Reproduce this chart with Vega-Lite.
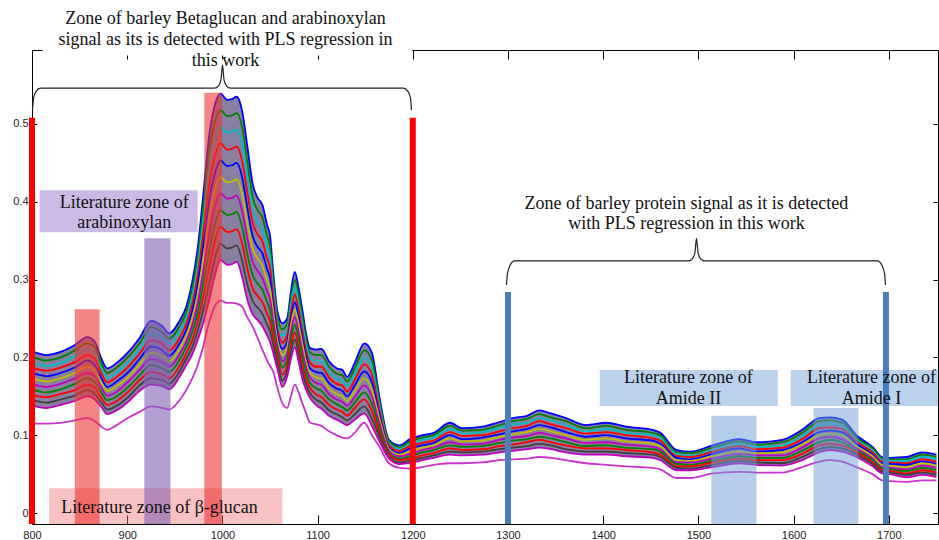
{
"$schema": "https://vega.github.io/schema/vega-lite/v6.json",
"width": 906, "height": 474,
"autosize": {"type": "none"},
"padding": {"left": 32, "top": 50, "right": 1, "bottom": 16},
"background": "white",
"config": {"view": {"stroke": null}},
"datasets": {
"spec": [
{"x":800,"t":0.208,"c1":0.145,"c2":0.152,"c3":0.159,"c4":0.166,"c5":0.173,"c6":0.180,"c7":0.187,"c8":0.194,"c9":0.201,"b":0.138,"l":0.115},
{"x":815,"t":0.203,"c1":0.142,"c2":0.149,"c3":0.155,"c4":0.162,"c5":0.169,"c6":0.176,"c7":0.183,"c8":0.189,"c9":0.196,"b":0.135,"l":0.115},
{"x":830,"t":0.207,"c1":0.146,"c2":0.153,"c3":0.159,"c4":0.166,"c5":0.173,"c6":0.180,"c7":0.187,"c8":0.193,"c9":0.200,"b":0.139,"l":0.116},
{"x":845,"t":0.216,"c1":0.151,"c2":0.158,"c3":0.166,"c4":0.173,"c5":0.180,"c6":0.187,"c7":0.194,"c8":0.202,"c9":0.209,"b":0.144,"l":0.119},
{"x":858,"t":0.226,"c1":0.158,"c2":0.165,"c3":0.173,"c4":0.180,"c5":0.188,"c6":0.196,"c7":0.203,"c8":0.211,"c9":0.218,"b":0.150,"l":0.122},
{"x":866,"t":0.220,"c1":0.153,"c2":0.161,"c3":0.168,"c4":0.176,"c5":0.183,"c6":0.190,"c7":0.198,"c8":0.205,"c9":0.213,"b":0.146,"l":0.118},
{"x":873,"t":0.198,"c1":0.142,"c2":0.148,"c3":0.155,"c4":0.161,"c5":0.167,"c6":0.173,"c7":0.179,"c8":0.186,"c9":0.192,"b":0.136,"l":0.111},
{"x":879,"t":0.186,"c1":0.133,"c2":0.139,"c3":0.145,"c4":0.151,"c5":0.157,"c6":0.162,"c7":0.168,"c8":0.174,"c9":0.180,"b":0.127,"l":0.107},
{"x":889,"t":0.193,"c1":0.138,"c2":0.144,"c3":0.150,"c4":0.156,"c5":0.163,"c6":0.169,"c7":0.175,"c8":0.181,"c9":0.187,"b":0.132,"l":0.113},
{"x":902,"t":0.208,"c1":0.150,"c2":0.157,"c3":0.163,"c4":0.170,"c5":0.176,"c6":0.182,"c7":0.189,"c8":0.195,"c9":0.202,"b":0.144,"l":0.123},
{"x":913,"t":0.225,"c1":0.164,"c2":0.171,"c3":0.177,"c4":0.184,"c5":0.191,"c6":0.198,"c7":0.205,"c8":0.211,"c9":0.218,"b":0.157,"l":0.130},
{"x":925,"t":0.247,"c1":0.173,"c2":0.181,"c3":0.190,"c4":0.198,"c5":0.206,"c6":0.214,"c7":0.222,"c8":0.231,"c9":0.239,"b":0.165,"l":0.137},
{"x":937,"t":0.240,"c1":0.171,"c2":0.178,"c3":0.186,"c4":0.194,"c5":0.202,"c6":0.209,"c7":0.217,"c8":0.225,"c9":0.232,"b":0.163,"l":0.135},
{"x":944,"t":0.231,"c1":0.166,"c2":0.173,"c3":0.181,"c4":0.188,"c5":0.195,"c6":0.202,"c7":0.209,"c8":0.217,"c9":0.224,"b":0.159,"l":0.133},
{"x":955,"t":0.247,"c1":0.182,"c2":0.189,"c3":0.197,"c4":0.204,"c5":0.211,"c6":0.218,"c7":0.225,"c8":0.233,"c9":0.240,"b":0.175,"l":0.145},
{"x":962,"t":0.265,"c1":0.198,"c2":0.205,"c3":0.213,"c4":0.220,"c5":0.228,"c6":0.235,"c7":0.243,"c8":0.250,"c9":0.258,"b":0.190,"l":0.158},
{"x":968,"t":0.295,"c1":0.212,"c2":0.221,"c3":0.231,"c4":0.240,"c5":0.249,"c6":0.258,"c7":0.267,"c8":0.277,"c9":0.286,"b":0.203,"l":0.172},
{"x":974,"t":0.340,"c1":0.234,"c2":0.246,"c3":0.257,"c4":0.269,"c5":0.281,"c6":0.293,"c7":0.305,"c8":0.316,"c9":0.328,"b":0.222,"l":0.190},
{"x":980,"t":0.410,"c1":0.262,"c2":0.278,"c3":0.295,"c4":0.311,"c5":0.328,"c6":0.344,"c7":0.361,"c8":0.377,"c9":0.394,"b":0.245,"l":0.215},
{"x":986,"t":0.484,"c1":0.294,"c2":0.315,"c3":0.336,"c4":0.357,"c5":0.379,"c6":0.400,"c7":0.421,"c8":0.442,"c9":0.463,"b":0.273,"l":0.245},
{"x":992,"t":0.524,"c1":0.327,"c2":0.349,"c3":0.371,"c4":0.393,"c5":0.415,"c6":0.436,"c7":0.458,"c8":0.480,"c9":0.502,"b":0.305,"l":0.266},
{"x":998,"t":0.539,"c1":0.346,"c2":0.368,"c3":0.389,"c4":0.411,"c5":0.432,"c6":0.453,"c7":0.475,"c8":0.496,"c9":0.518,"b":0.325,"l":0.273},
{"x":1005,"t":0.531,"c1":0.340,"c2":0.361,"c3":0.383,"c4":0.404,"c5":0.425,"c6":0.446,"c7":0.467,"c8":0.489,"c9":0.510,"b":0.319,"l":0.270},
{"x":1010,"t":0.532,"c1":0.341,"c2":0.362,"c3":0.384,"c4":0.405,"c5":0.426,"c6":0.447,"c7":0.468,"c8":0.490,"c9":0.511,"b":0.320,"l":0.270},
{"x":1015,"t":0.535,"c1":0.344,"c2":0.365,"c3":0.387,"c4":0.408,"c5":0.429,"c6":0.450,"c7":0.471,"c8":0.493,"c9":0.514,"b":0.323,"l":0.269},
{"x":1021,"t":0.515,"c1":0.323,"c2":0.345,"c3":0.366,"c4":0.387,"c5":0.409,"c6":0.430,"c7":0.451,"c8":0.472,"c9":0.494,"b":0.302,"l":0.265},
{"x":1026,"t":0.473,"c1":0.295,"c2":0.315,"c3":0.334,"c4":0.354,"c5":0.374,"c6":0.394,"c7":0.414,"c8":0.433,"c9":0.453,"b":0.275,"l":0.252},
{"x":1032,"t":0.422,"c1":0.272,"c2":0.288,"c3":0.305,"c4":0.322,"c5":0.339,"c6":0.355,"c7":0.372,"c8":0.389,"c9":0.405,"b":0.255,"l":0.239},
{"x":1037,"t":0.405,"c1":0.264,"c2":0.279,"c3":0.295,"c4":0.311,"c5":0.327,"c6":0.342,"c7":0.358,"c8":0.374,"c9":0.389,"b":0.248,"l":0.225},
{"x":1042,"t":0.396,"c1":0.256,"c2":0.271,"c3":0.287,"c4":0.302,"c5":0.318,"c6":0.334,"c7":0.349,"c8":0.365,"c9":0.380,"b":0.240,"l":0.210},
{"x":1047,"t":0.370,"c1":0.242,"c2":0.256,"c3":0.271,"c4":0.285,"c5":0.299,"c6":0.313,"c7":0.327,"c8":0.342,"c9":0.356,"b":0.228,"l":0.196},
{"x":1050,"t":0.357,"c1":0.234,"c2":0.247,"c3":0.261,"c4":0.275,"c5":0.289,"c6":0.302,"c7":0.316,"c8":0.330,"c9":0.343,"b":0.220,"l":0.189},
{"x":1053,"t":0.315,"c1":0.219,"c2":0.229,"c3":0.240,"c4":0.251,"c5":0.262,"c6":0.272,"c7":0.283,"c8":0.294,"c9":0.304,"b":0.208,"l":0.183},
{"x":1058,"t":0.258,"c1":0.191,"c2":0.199,"c3":0.206,"c4":0.214,"c5":0.221,"c6":0.228,"c7":0.236,"c8":0.243,"c9":0.251,"b":0.184,"l":0.160},
{"x":1063,"t":0.244,"c1":0.170,"c2":0.178,"c3":0.187,"c4":0.195,"c5":0.203,"c6":0.211,"c7":0.219,"c8":0.228,"c9":0.236,"b":0.162,"l":0.141},
{"x":1068,"t":0.250,"c1":0.183,"c2":0.190,"c3":0.198,"c4":0.205,"c5":0.213,"c6":0.220,"c7":0.228,"c8":0.235,"c9":0.243,"b":0.175,"l":0.135},
{"x":1072,"t":0.285,"c1":0.207,"c2":0.215,"c3":0.224,"c4":0.233,"c5":0.242,"c6":0.250,"c7":0.259,"c8":0.268,"c9":0.276,"b":0.198,"l":0.150},
{"x":1076,"t":0.310,"c1":0.223,"c2":0.232,"c3":0.242,"c4":0.252,"c5":0.262,"c6":0.271,"c7":0.281,"c8":0.291,"c9":0.300,"b":0.213,"l":0.165},
{"x":1080,"t":0.290,"c1":0.205,"c2":0.214,"c3":0.224,"c4":0.233,"c5":0.243,"c6":0.252,"c7":0.262,"c8":0.271,"c9":0.281,"b":0.195,"l":0.155},
{"x":1084,"t":0.261,"c1":0.181,"c2":0.190,"c3":0.199,"c4":0.208,"c5":0.217,"c6":0.225,"c7":0.234,"c8":0.243,"c9":0.252,"b":0.172,"l":0.141},
{"x":1088,"t":0.230,"c1":0.165,"c2":0.172,"c3":0.180,"c4":0.187,"c5":0.194,"c6":0.201,"c7":0.208,"c8":0.216,"c9":0.223,"b":0.158,"l":0.128},
{"x":1092,"t":0.212,"c1":0.154,"c2":0.161,"c3":0.167,"c4":0.174,"c5":0.180,"c6":0.186,"c7":0.193,"c8":0.199,"c9":0.206,"b":0.148,"l":0.116},
{"x":1099,"t":0.210,"c1":0.145,"c2":0.152,"c3":0.160,"c4":0.167,"c5":0.174,"c6":0.181,"c7":0.188,"c8":0.196,"c9":0.203,"b":0.138,"l":0.114},
{"x":1104,"t":0.211,"c1":0.142,"c2":0.149,"c3":0.157,"c4":0.165,"c5":0.173,"c6":0.180,"c7":0.188,"c8":0.196,"c9":0.203,"b":0.134,"l":0.112},
{"x":1112,"t":0.195,"c1":0.132,"c2":0.139,"c3":0.146,"c4":0.153,"c5":0.160,"c6":0.167,"c7":0.174,"c8":0.181,"c9":0.188,"b":0.125,"l":0.105},
{"x":1120,"t":0.186,"c1":0.127,"c2":0.133,"c3":0.140,"c4":0.146,"c5":0.153,"c6":0.160,"c7":0.166,"c8":0.173,"c9":0.179,"b":0.120,"l":0.100},
{"x":1126,"t":0.184,"c1":0.123,"c2":0.130,"c3":0.136,"c4":0.143,"c5":0.150,"c6":0.157,"c7":0.164,"c8":0.170,"c9":0.177,"b":0.116,"l":0.097},
{"x":1131,"t":0.175,"c1":0.119,"c2":0.125,"c3":0.132,"c4":0.138,"c5":0.144,"c6":0.150,"c7":0.156,"c8":0.163,"c9":0.169,"b":0.113,"l":0.096},
{"x":1139,"t":0.193,"c1":0.127,"c2":0.135,"c3":0.142,"c4":0.149,"c5":0.157,"c6":0.164,"c7":0.171,"c8":0.178,"c9":0.186,"b":0.120,"l":0.103},
{"x":1149,"t":0.218,"c1":0.137,"c2":0.146,"c3":0.155,"c4":0.164,"c5":0.173,"c6":0.182,"c7":0.191,"c8":0.200,"c9":0.209,"b":0.128,"l":0.116},
{"x":1157,"t":0.206,"c1":0.121,"c2":0.131,"c3":0.140,"c4":0.150,"c5":0.159,"c6":0.168,"c7":0.178,"c8":0.187,"c9":0.197,"b":0.112,"l":0.100},
{"x":1165,"t":0.149,"c1":0.098,"c2":0.103,"c3":0.109,"c4":0.115,"c5":0.121,"c6":0.126,"c7":0.132,"c8":0.138,"c9":0.143,"b":0.092,"l":0.085},
{"x":1175,"t":0.094,"c1":0.072,"c2":0.075,"c3":0.077,"c4":0.080,"c5":0.082,"c6":0.084,"c7":0.087,"c8":0.089,"c9":0.092,"b":0.070,"l":0.064},
{"x":1186,"t":0.087,"c1":0.065,"c2":0.068,"c3":0.070,"c4":0.073,"c5":0.075,"c6":0.077,"c7":0.080,"c8":0.082,"c9":0.085,"b":0.063,"l":0.058},
{"x":1197,"t":0.095,"c1":0.067,"c2":0.070,"c3":0.073,"c4":0.076,"c5":0.079,"c6":0.083,"c7":0.086,"c8":0.089,"c9":0.092,"b":0.064,"l":0.057},
{"x":1210,"t":0.100,"c1":0.071,"c2":0.074,"c3":0.078,"c4":0.081,"c5":0.084,"c6":0.087,"c7":0.090,"c8":0.094,"c9":0.097,"b":0.068,"l":0.059},
{"x":1222,"t":0.103,"c1":0.074,"c2":0.077,"c3":0.081,"c4":0.084,"c5":0.087,"c6":0.090,"c7":0.093,"c8":0.097,"c9":0.100,"b":0.071,"l":0.062},
{"x":1239,"t":0.116,"c1":0.079,"c2":0.083,"c3":0.087,"c4":0.091,"c5":0.096,"c6":0.100,"c7":0.104,"c8":0.108,"c9":0.112,"b":0.075,"l":0.064},
{"x":1252,"t":0.109,"c1":0.078,"c2":0.081,"c3":0.085,"c4":0.088,"c5":0.092,"c6":0.095,"c7":0.099,"c8":0.102,"c9":0.106,"b":0.074,"l":0.064},
{"x":1273,"t":0.111,"c1":0.079,"c2":0.082,"c3":0.086,"c4":0.089,"c5":0.093,"c6":0.097,"c7":0.100,"c8":0.104,"c9":0.107,"b":0.075,"l":0.065},
{"x":1291,"t":0.117,"c1":0.082,"c2":0.086,"c3":0.090,"c4":0.094,"c5":0.098,"c6":0.101,"c7":0.105,"c8":0.109,"c9":0.113,"b":0.078,"l":0.068},
{"x":1305,"t":0.122,"c1":0.084,"c2":0.088,"c3":0.093,"c4":0.097,"c5":0.101,"c6":0.105,"c7":0.109,"c8":0.114,"c9":0.118,"b":0.080,"l":0.069},
{"x":1320,"t":0.125,"c1":0.086,"c2":0.091,"c3":0.095,"c4":0.099,"c5":0.104,"c6":0.108,"c7":0.112,"c8":0.116,"c9":0.121,"b":0.082,"l":0.070},
{"x":1333,"t":0.132,"c1":0.089,"c2":0.094,"c3":0.098,"c4":0.103,"c5":0.108,"c6":0.113,"c7":0.118,"c8":0.122,"c9":0.127,"b":0.084,"l":0.072},
{"x":1345,"t":0.128,"c1":0.087,"c2":0.091,"c3":0.096,"c4":0.100,"c5":0.105,"c6":0.110,"c7":0.114,"c8":0.119,"c9":0.123,"b":0.082,"l":0.071},
{"x":1361,"t":0.122,"c1":0.082,"c2":0.087,"c3":0.091,"c4":0.096,"c5":0.100,"c6":0.104,"c7":0.109,"c8":0.113,"c9":0.118,"b":0.078,"l":0.068},
{"x":1382,"t":0.113,"c1":0.079,"c2":0.083,"c3":0.086,"c4":0.090,"c5":0.094,"c6":0.098,"c7":0.102,"c8":0.105,"c9":0.109,"b":0.075,"l":0.064},
{"x":1403,"t":0.116,"c1":0.079,"c2":0.083,"c3":0.087,"c4":0.091,"c5":0.096,"c6":0.100,"c7":0.104,"c8":0.108,"c9":0.112,"b":0.075,"l":0.062},
{"x":1424,"t":0.111,"c1":0.077,"c2":0.081,"c3":0.084,"c4":0.088,"c5":0.092,"c6":0.096,"c7":0.100,"c8":0.103,"c9":0.107,"b":0.073,"l":0.060},
{"x":1452,"t":0.107,"c1":0.075,"c2":0.078,"c3":0.082,"c4":0.085,"c5":0.089,"c6":0.093,"c7":0.096,"c8":0.100,"c9":0.103,"b":0.071,"l":0.058},
{"x":1460,"t":0.103,"c1":0.072,"c2":0.075,"c3":0.079,"c4":0.082,"c5":0.086,"c6":0.089,"c7":0.093,"c8":0.096,"c9":0.100,"b":0.068,"l":0.056},
{"x":1477,"t":0.081,"c1":0.058,"c2":0.060,"c3":0.063,"c4":0.065,"c5":0.068,"c6":0.071,"c7":0.073,"c8":0.076,"c9":0.078,"b":0.055,"l":0.045},
{"x":1492,"t":0.079,"c1":0.057,"c2":0.060,"c3":0.062,"c4":0.065,"c5":0.067,"c6":0.069,"c7":0.072,"c8":0.074,"c9":0.077,"b":0.055,"l":0.045},
{"x":1515,"t":0.087,"c1":0.062,"c2":0.065,"c3":0.067,"c4":0.070,"c5":0.073,"c6":0.076,"c7":0.079,"c8":0.081,"c9":0.084,"b":0.059,"l":0.051},
{"x":1543,"t":0.095,"c1":0.067,"c2":0.070,"c3":0.073,"c4":0.076,"c5":0.079,"c6":0.083,"c7":0.086,"c8":0.089,"c9":0.092,"b":0.064,"l":0.053},
{"x":1561,"t":0.091,"c1":0.065,"c2":0.068,"c3":0.071,"c4":0.074,"c5":0.077,"c6":0.079,"c7":0.082,"c8":0.085,"c9":0.088,"b":0.062,"l":0.052},
{"x":1588,"t":0.094,"c1":0.064,"c2":0.068,"c3":0.071,"c4":0.074,"c5":0.078,"c6":0.081,"c7":0.084,"c8":0.087,"c9":0.091,"b":0.061,"l":0.052},
{"x":1609,"t":0.107,"c1":0.072,"c2":0.076,"c3":0.080,"c4":0.084,"c5":0.088,"c6":0.091,"c7":0.095,"c8":0.099,"c9":0.103,"b":0.068,"l":0.059},
{"x":1627,"t":0.122,"c1":0.082,"c2":0.087,"c3":0.091,"c4":0.096,"c5":0.100,"c6":0.104,"c7":0.109,"c8":0.113,"c9":0.118,"b":0.078,"l":0.066},
{"x":1638,"t":0.123,"c1":0.085,"c2":0.089,"c3":0.094,"c4":0.098,"c5":0.102,"c6":0.106,"c7":0.110,"c8":0.115,"c9":0.119,"b":0.081,"l":0.068},
{"x":1651,"t":0.120,"c1":0.083,"c2":0.087,"c3":0.091,"c4":0.095,"c5":0.100,"c6":0.104,"c7":0.108,"c8":0.112,"c9":0.116,"b":0.079,"l":0.066},
{"x":1666,"t":0.100,"c1":0.075,"c2":0.078,"c3":0.080,"c4":0.083,"c5":0.086,"c6":0.089,"c7":0.092,"c8":0.094,"c9":0.097,"b":0.072,"l":0.059},
{"x":1683,"t":0.085,"c1":0.063,"c2":0.065,"c3":0.068,"c4":0.070,"c5":0.073,"c6":0.075,"c7":0.078,"c8":0.080,"c9":0.083,"b":0.060,"l":0.050},
{"x":1693,"t":0.072,"c1":0.053,"c2":0.055,"c3":0.057,"c4":0.059,"c5":0.062,"c6":0.064,"c7":0.066,"c8":0.068,"c9":0.070,"b":0.051,"l":0.042},
{"x":1701,"t":0.071,"c1":0.052,"c2":0.054,"c3":0.056,"c4":0.058,"c5":0.061,"c6":0.063,"c7":0.065,"c8":0.067,"c9":0.069,"b":0.050,"l":0.041},
{"x":1719,"t":0.072,"c1":0.049,"c2":0.051,"c3":0.054,"c4":0.056,"c5":0.059,"c6":0.062,"c7":0.064,"c8":0.067,"c9":0.069,"b":0.046,"l":0.040},
{"x":1735,"t":0.078,"c1":0.052,"c2":0.055,"c3":0.058,"c4":0.061,"c5":0.064,"c6":0.066,"c7":0.069,"c8":0.072,"c9":0.075,"b":0.049,"l":0.042},
{"x":1750,"t":0.075,"c1":0.049,"c2":0.052,"c3":0.055,"c4":0.058,"c5":0.061,"c6":0.063,"c7":0.066,"c8":0.069,"c9":0.072,"b":0.046,"l":0.042}
],
"rects": [
{"x":818,"x2":1063,"y":-0.0141,"y2":0.032,"k":"pink"},
{"x":845,"x2":871,"y":-0.0141,"y2":0.262,"k":"red"},
{"x":981,"x2":999.4,"y":-0.0141,"y2":0.54,"k":"red"},
{"x":918,"x2":945.5,"y":-0.0141,"y2":0.353,"k":"purple"},
{"x":808,"x2":974,"y":0.361,"y2":0.415,"k":"purplebox"},
{"x":1513.5,"x2":1561,"y":-0.0141,"y2":0.125,"k":"blue"},
{"x":1621,"x2":1668,"y":-0.0141,"y2":0.135,"k":"blue"},
{"x":1396.5,"x2":1583.5,"y":0.1375,"y2":0.1838,"k":"bluebox"},
{"x":1597,"x2":1751.7,"y":0.1375,"y2":0.1838,"k":"bluebox"}
],
"bars": [
{"x":800,"y":-0.0141,"y2":0.508,"c":"red"},
{"x":1200,"y":-0.0141,"y2":0.508,"c":"red"},
{"x":1300,"y":-0.0141,"y2":0.284,"c":"blue"},
{"x":1697,"y":-0.0141,"y2":0.284,"c":"blue"}
],
"braces": [
{"g":1,"x":800.5,"y":0.518},{"g":1,"x":801.6,"y":0.533},{"g":1,"x":804.2,"y":0.542},{"g":1,"x":808.9,"y":0.546},{"g":1,"x":991.7,"y":0.546},{"g":1,"x":995.9,"y":0.549},{"g":1,"x":998.5,"y":0.557},{"g":1,"x":1000.1,"y":0.576},{"g":1,"x":1001.7,"y":0.557},{"g":1,"x":1004.3,"y":0.549},{"g":1,"x":1008.5,"y":0.546},{"g":1,"x":1190.2,"y":0.546},{"g":1,"x":1194.9,"y":0.542},{"g":1,"x":1197.6,"y":0.533},{"g":1,"x":1198.6,"y":0.518},
{"g":2,"x":1298.4,"y":0.293},{"g":2,"x":1299.5,"y":0.308},{"g":2,"x":1302.1,"y":0.318},{"g":2,"x":1306.8,"y":0.324},{"g":2,"x":1489.6,"y":0.324},{"g":2,"x":1493.8,"y":0.327},{"g":2,"x":1496.4,"y":0.335},{"g":2,"x":1498,"y":0.353},{"g":2,"x":1499.6,"y":0.335},{"g":2,"x":1502.2,"y":0.327},{"g":2,"x":1506.4,"y":0.324},{"g":2,"x":1688.2,"y":0.324},{"g":2,"x":1692.9,"y":0.318},{"g":2,"x":1695.5,"y":0.308},{"g":2,"x":1696.6,"y":0.293}
],
"texts": [
{"x":1003.3,"y":0.6350,"t":"Zone of barley Betaglucan and arabinoxylan"},
{"x":1003.3,"y":0.6080,"t":"signal as its is detected with PLS regression in"},
{"x":1003.3,"y":0.5810,"t":"this work"},
{"x":1487.4,"y":0.397,"t":"Zone of barley protein  signal as it is detected"},
{"x":1487.4,"y":0.3715,"t":"with PLS regression in this work"},
{"x":897,"y":0.3985,"t":"Literature zone of"},
{"x":897,"y":0.373,"t":"arabinoxylan"},
{"x":934,"y":0.0064,"t":"Literature zone of β-glucan"},
{"x":1489.5,"y":0.1735,"t":"Literature zone of"},
{"x":1489.5,"y":0.1465,"t":"Amide II"},
{"x":1681.8,"y":0.1735,"t":"Literature zone of"},
{"x":1681.8,"y":0.1465,"t":"Amide I"}
],
"mask": [{"x":811,"x2":1199.5,"y":0.588,"y2":0.605}],
"anchor": [{"x":800,"y":0}]
},
"layer": [
{
"data": {"name": "anchor"},
"mark": {"type": "point", "opacity": 0},
"encoding": {
"x": {"field": "x", "type": "quantitative", "scale": {"domain": [800, 1751.7], "nice": false, "zero": false},
 "axis": {"orient": "bottom", "title": null, "values": [800,900,1000,1100,1200,1300,1400,1500,1600,1700], "format": "d", "grid": false, "tickSize": -9, "labelPadding": 14, "labelFont": "Liberation Sans", "labelFontSize": 11, "labelColor": "#222", "domainColor": "#000", "tickColor": "#000", "labelFlush": false}},
"y": {"field": "y", "type": "quantitative", "scale": {"domain": [-0.0141, 0.5951], "nice": false, "zero": false},
 "axis": {"orient": "left", "title": null, "values": [0,0.1,0.2,0.3,0.4,0.5], "format": ".1~f", "grid": false, "tickSize": -5, "labelPadding": 9, "labelFont": "Liberation Sans", "labelFontSize": 11, "labelColor": "#222", "domainColor": "#000", "tickColor": "#000"}}
}
},
{
"data": {"name": "anchor"},
"mark": {"type": "point", "opacity": 0},
"encoding": {
"x": {"field": "x", "type": "quantitative", "scale": {"domain": [800, 1751.7], "nice": false, "zero": false},
 "axis": {"orient": "top", "title": null, "labels": false, "values": [800,900,1000,1100,1200,1300,1400,1500,1600,1700], "grid": false, "tickSize": -9, "domainColor": "#000", "tickColor": "#000"}},
"y": {"field": "y", "type": "quantitative", "scale": {"domain": [-0.0141, 0.5951], "nice": false, "zero": false},
 "axis": {"orient": "right", "title": null, "labels": false, "values": [0,0.1,0.2,0.3,0.4,0.5], "grid": false, "tickSize": -5, "domainColor": "#000", "tickColor": "#000"}}
}
},
{
"layer": [
{
"data": {"name": "spec"},
"mark": {"type": "area", "interpolate": "monotone", "color": "#6a5f8a", "opacity": 0.8},
"encoding": {
"x": {"field": "x", "type": "quantitative", "scale": {"domain": [800, 1751.7], "nice": false, "zero": false}, "axis": null},
"y": {"field": "t", "type": "quantitative", "scale": {"domain": [-0.0141, 0.5951], "nice": false, "zero": false}, "axis": null},
"y2": {"field": "b"}
}
},
{
"data": {"name": "spec"},
"transform": [{"fold": ["t","c9","c8","c7","c6","c5","c4","c3","c2","c1","b","l"], "as": ["k", "v"]}],
"mark": {"type": "line", "interpolate": "monotone", "strokeWidth": 1.8},
"encoding": {
"x": {"field": "x", "type": "quantitative", "scale": {"domain": [800, 1751.7], "nice": false, "zero": false}, "axis": null},
"y": {"field": "v", "type": "quantitative", "scale": {"domain": [-0.0141, 0.5951], "nice": false, "zero": false}, "axis": null},
"color": {"field": "k", "type": "nominal", "legend": null,
 "scale": {"domain": ["t","c9","c8","c7","c6","c5","c4","c3","c2","c1","b","l"],
 "range": ["#0000ff","#008000","#00bfbf","#ff0000","#0000ff","#bfbf00","#bf00bf","#008000","#ff0000","#404040","#bf00bf","#cc33cc"]}}
}
},
{
"data": {"name": "rects"},
"mark": {"type": "rect"},
"encoding": {
"x": {"field": "x", "type": "quantitative", "scale": {"domain": [800, 1751.7], "nice": false, "zero": false}, "axis": null},
"x2": {"field": "x2"},
"y": {"field": "y", "type": "quantitative", "scale": {"domain": [-0.0141, 0.5951], "nice": false, "zero": false}, "axis": null},
"y2": {"field": "y2"},
"color": {"field": "k", "type": "nominal", "legend": null,
 "scale": {"domain": ["pink","red","purple","purplebox","blue","bluebox"],
 "range": ["rgba(240,110,110,0.42)","rgba(238,50,50,0.6)","rgba(130,95,180,0.6)","rgba(160,130,205,0.55)","rgba(110,155,215,0.5)","rgba(120,165,220,0.5)"]}}
}
},
{
"data": {"name": "bars"},
"mark": {"type": "rule", "strokeWidth": 6},
"encoding": {
"x": {"field": "x", "type": "quantitative", "scale": {"domain": [800, 1751.7], "nice": false, "zero": false}, "axis": null},
"y": {"field": "y", "type": "quantitative", "scale": {"domain": [-0.0141, 0.5951], "nice": false, "zero": false}, "axis": null},
"y2": {"field": "y2"},
"color": {"field": "c", "type": "nominal", "legend": null, "scale": {"domain": ["red","blue"], "range": ["#ff0000","#4a7ebb"]}}
}
},
{
"data": {"name": "mask"},
"mark": {"type": "rect", "color": "white", "opacity": 1},
"encoding": {
"x": {"field": "x", "type": "quantitative", "scale": {"domain": [800, 1751.7], "nice": false, "zero": false}, "axis": null},
"x2": {"field": "x2"},
"y": {"field": "y", "type": "quantitative", "scale": {"domain": [-0.0141, 0.5951], "nice": false, "zero": false}, "axis": null},
"y2": {"field": "y2"}
}
},
{
"data": {"name": "braces"},
"mark": {"type": "line", "interpolate": "monotone", "color": "#222", "strokeWidth": 1.2},
"encoding": {
"x": {"field": "x", "type": "quantitative", "scale": {"domain": [800, 1751.7], "nice": false, "zero": false}, "axis": null},
"y": {"field": "y", "type": "quantitative", "scale": {"domain": [-0.0141, 0.5951], "nice": false, "zero": false}, "axis": null},
"detail": {"field": "g", "type": "nominal"}
}
},
{
"data": {"name": "texts"},
"mark": {"type": "text", "font": "Liberation Serif", "fontSize": 18, "align": "center", "baseline": "middle", "color": "#111"},
"encoding": {
"x": {"field": "x", "type": "quantitative", "scale": {"domain": [800, 1751.7], "nice": false, "zero": false}, "axis": null},
"y": {"field": "y", "type": "quantitative", "scale": {"domain": [-0.0141, 0.5951], "nice": false, "zero": false}, "axis": null},
"text": {"field": "t", "type": "nominal"}
}
}
],
"resolve": {"scale": {"color": "independent"}}
}
],
"resolve": {"axis": {"x": "independent", "y": "independent"}}
}
